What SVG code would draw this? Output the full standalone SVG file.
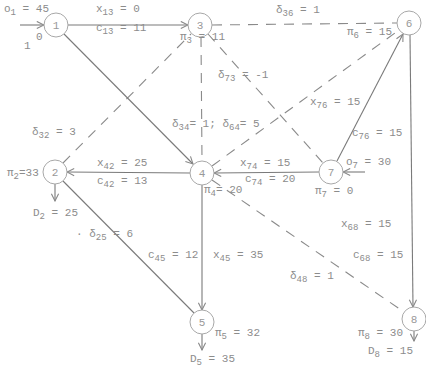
<svg xmlns="http://www.w3.org/2000/svg" width="426" height="376" viewBox="0 0 426 376">
<defs>
<marker id="arr" viewBox="0 0 10 10" refX="9" refY="5" markerWidth="9" markerHeight="9" markerUnits="userSpaceOnUse" orient="auto">
<path d="M1,1 L9,5 L1,9" fill="none" stroke="#888" stroke-width="1.2"/>
</marker>
<style>
text{font-family:"Liberation Mono","DejaVu Sans Mono",monospace;font-size:11px;fill:#8c8c8c}
.s{font-size:9px}
circle{fill:#fff;stroke:#a8a8a8;stroke-width:1}
.n text{font-size:11px;text-anchor:middle;fill:#999}
.sol{stroke:#7a7a7a;stroke-width:1.1;fill:none}
.das{stroke:#8a8a8a;stroke-width:1.1;fill:none;stroke-dasharray:10 8}
.ar{marker-end:url(#arr)}
</style>
</defs>
<rect width="426" height="376" fill="#fff"/>
<g id="edges">
<line class="sol ar" x1="20" y1="25" x2="44" y2="25"/>
<line class="sol ar" x1="68" y1="25" x2="188" y2="25"/>
<line class="das" x1="212" y1="25" x2="397" y2="23"/>
<line class="das" x1="201" y1="37" x2="202" y2="161"/>
<line class="das" x1="208" y1="34" x2="323" y2="163"/>
<line class="das" x1="212" y1="166" x2="399" y2="30"/>
<line class="sol ar" x1="337" y1="161" x2="403" y2="34"/>
<line class="das" x1="63" y1="163" x2="191" y2="34"/>
<line class="sol ar" x1="64" y1="34" x2="193" y2="164"/>
<line class="sol ar" x1="190" y1="173" x2="67" y2="172"/>
<line class="sol ar" x1="319" y1="172" x2="214" y2="173"/>
<line class="sol ar" x1="365" y1="172" x2="343" y2="172"/>
<line class="sol" x1="63" y1="181" x2="194" y2="313"/>
<line class="sol ar" x1="202" y1="185" x2="202" y2="310"/>
<line class="das" x1="212" y1="180" x2="404" y2="312"/>
<line class="sol ar" x1="410" y1="35" x2="413" y2="307"/>
<line class="sol ar" x1="55" y1="184" x2="55" y2="201"/>
<line class="sol ar" x1="202" y1="334" x2="202" y2="350"/>
<line class="sol ar" x1="414" y1="331" x2="414" y2="341"/>
</g>
<g id="n1" class="n"><circle cx="56" cy="25" r="12"/><text x="56" y="29">1</text></g>
<g id="n2" class="n"><circle cx="55" cy="172" r="12"/><text x="55" y="176">2</text></g>
<g id="n3" class="n"><circle cx="200" cy="25" r="12"/><text x="200" y="29">3</text></g>
<g id="n4" class="n"><circle cx="202" cy="173" r="12"/><text x="202" y="177">4</text></g>
<g id="n5" class="n"><circle cx="202" cy="322" r="12"/><text x="202" y="326">5</text></g>
<g id="n6" class="n"><circle cx="409" cy="23" r="12"/><text x="409" y="27">6</text></g>
<g id="n7" class="n"><circle cx="331" cy="172" r="12"/><text x="331" y="176">7</text></g>
<g id="n8" class="n"><circle cx="414" cy="319" r="12"/><text x="414" y="323">8</text></g>
<g id="labels">
<text x="4" y="12">o<tspan class="s" dy="3">1</tspan><tspan dy="-3"> = 45</tspan></text>
<text x="36" y="40">0</text>
<text x="24" y="49">1</text>
<text x="96" y="12">x<tspan class="s" dy="3">13</tspan><tspan dy="-3"> = 0</tspan></text>
<text x="96" y="31">c<tspan class="s" dy="3">13</tspan><tspan dy="-3"> = 11</tspan></text>
<text x="180" y="40">π<tspan class="s" dy="3">3</tspan><tspan dy="-3"> = 11</tspan></text>
<text x="276" y="13">δ<tspan class="s" dy="3">36</tspan><tspan dy="-3"> = 1</tspan></text>
<text x="347" y="35">π<tspan class="s" dy="3">6</tspan><tspan dy="-3"> = 15</tspan></text>
<text x="218" y="78">δ<tspan class="s" dy="3">73</tspan><tspan dy="-3"> = -1</tspan></text>
<text x="310" y="105">x<tspan class="s" dy="3">76</tspan><tspan dy="-3"> = 15</tspan></text>
<text x="172" y="127">δ<tspan class="s" dy="3">34</tspan><tspan dy="-3">= 1; δ</tspan><tspan class="s" dy="3">64</tspan><tspan dy="-3">= 5</tspan></text>
<text x="352" y="136">c<tspan class="s" dy="3">76</tspan><tspan dy="-3"> = 15</tspan></text>
<text x="32" y="135">δ<tspan class="s" dy="3">32</tspan><tspan dy="-3"> = 3</tspan></text>
<text x="97" y="166">x<tspan class="s" dy="3">42</tspan><tspan dy="-3"> = 25</tspan></text>
<text x="97" y="184">c<tspan class="s" dy="3">42</tspan><tspan dy="-3"> = 13</tspan></text>
<text x="7" y="176">π<tspan class="s" dy="3">2</tspan><tspan dy="-3">=33</tspan></text>
<text x="33" y="216">D<tspan class="s" dy="3">2</tspan><tspan dy="-3"> = 25</tspan></text>
<text x="240" y="166">x<tspan class="s" dy="3">74</tspan><tspan dy="-3"> = 15</tspan></text>
<text x="245" y="182">c<tspan class="s" dy="3">74</tspan><tspan dy="-3"> = 20</tspan></text>
<text x="204" y="193">π<tspan class="s" dy="3">4</tspan><tspan dy="-3">= 20</tspan></text>
<text x="346" y="165">o<tspan class="s" dy="3">7</tspan><tspan dy="-3"> = 30</tspan></text>
<text x="315" y="194">π<tspan class="s" dy="3">7</tspan><tspan dy="-3"> = 0</tspan></text>
<text x="76" y="237">· δ<tspan class="s" dy="3">25</tspan><tspan dy="-3"> = 6</tspan></text>
<text x="148" y="258">c<tspan class="s" dy="3">45</tspan><tspan dy="-3"> = 12</tspan></text>
<text x="213" y="258">x<tspan class="s" dy="3">45</tspan><tspan dy="-3"> = 35</tspan></text>
<text x="341" y="227">x<tspan class="s" dy="3">68</tspan><tspan dy="-3"> = 15</tspan></text>
<text x="353" y="258">c<tspan class="s" dy="3">68</tspan><tspan dy="-3"> = 15</tspan></text>
<text x="290" y="279">δ<tspan class="s" dy="3">48</tspan><tspan dy="-3"> = 1</tspan></text>
<text x="215" y="336">π<tspan class="s" dy="3">5</tspan><tspan dy="-3"> = 32</tspan></text>
<text x="190" y="362">D<tspan class="s" dy="3">5</tspan><tspan dy="-3"> = 35</tspan></text>
<text x="358" y="336">π<tspan class="s" dy="3">8</tspan><tspan dy="-3"> = 30</tspan></text>
<text x="368" y="354">D<tspan class="s" dy="3">8</tspan><tspan dy="-3"> = 15</tspan></text>
</g>
</svg>
